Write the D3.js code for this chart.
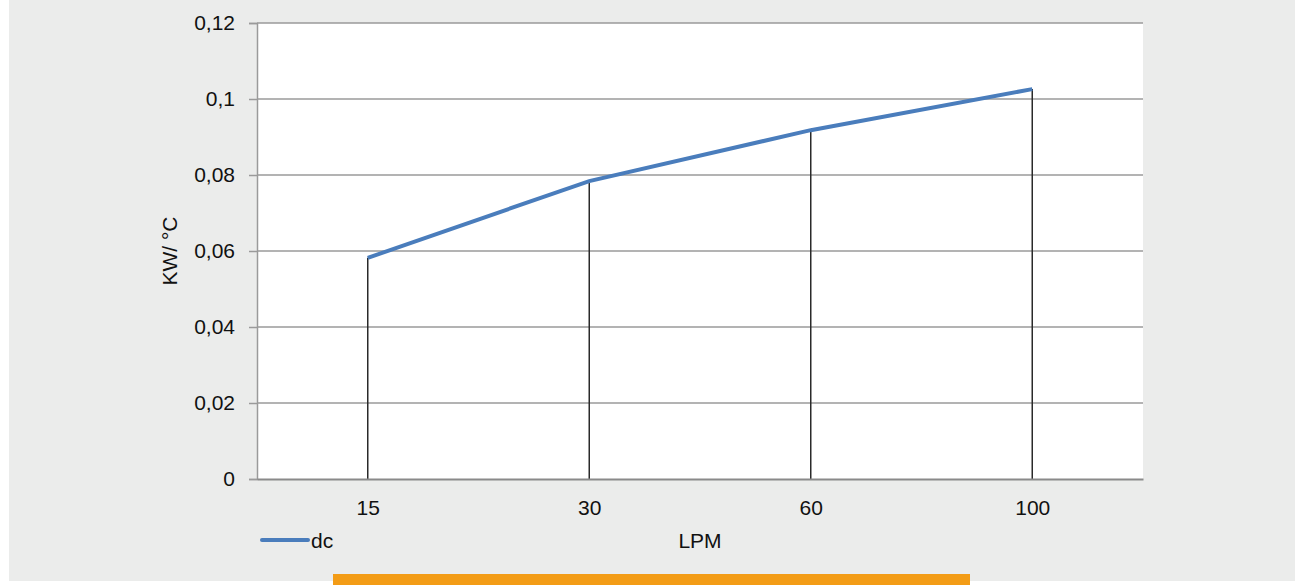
<!DOCTYPE html>
<html>
<head>
<meta charset="utf-8">
<script src="https://cdn.jsdelivr.net/npm/d3@7"></script>
<style>
  body { margin: 0; background: #fff; }
  text { font-family: "Liberation Sans", Arial, sans-serif; fill: #111; }
</style>
</head>
<body>
<div id="chart"></div>
<script>
// data
const categories = ["15", "30", "60", "100"];
const dcValues = [0.0582, 0.0784, 0.0918, 0.1026];
const yTicks = [0, 0.02, 0.04, 0.06, 0.08, 0.1, 0.12];
const seriesName = "dc";
const xTitle = "LPM";
const yTitle = "KW/ °C";

let W = 1303, H = 585;
let margin = { top: 23, left: 257, right: 160, bottom: 106 };
let w = W - margin.left - margin.right;
let h = H - margin.top - margin.bottom;
let fs = 21;

let svg = d3.select("#chart").append("svg")
    .attr("width", W)
    .attr("height", H);

// grey panel + orange strip
svg.append("rect").attr("x", 9).attr("y", 0).attr("width", 1286).attr("height", 581).attr("fill", "#ebeceb");
svg.append("rect").attr("x", 333).attr("y", 574).attr("width", 637).attr("height", 11).attr("fill", "#f39c16");

let g = svg.append("g").attr("transform", `translate(${margin.left}, ${margin.top})`);

g.append("rect").attr("width", w).attr("height", h).attr("fill", "#fff");

//scales
let x = d3.scalePoint().domain(categories).range([0, w]).padding(0.5);
let y = d3.scaleLinear().domain([0, 0.12]).range([h, 0]);

let fmt = d => String(d).replace(".", ",");

// gridlines
g.append("g").selectAll("line")
    .data(yTicks.filter(d => d > 0))
    .join("line")
    .attr("x1", 0).attr("x2", w)
    .attr("y1", d => y(d)).attr("y2", d => y(d))
    .attr("stroke", "#9a9a9a").attr("stroke-width", 1.5);

// y axis
let yAxis = g.append("g")
    .call(d3.axisLeft(y).tickValues(yTicks).tickFormat(fmt).tickSize(8).tickPadding(14));
yAxis.select(".domain").attr("stroke", "#9a9a9a").attr("stroke-width", 1.5);
yAxis.selectAll(".tick line").attr("stroke", "#9a9a9a").attr("stroke-width", 1.5);
yAxis.selectAll("text").attr("font-size", fs).attr("font-family", "Liberation Sans, Arial, sans-serif").attr("fill", "#111");

// drop lines
g.append("g").selectAll("line")
    .data(dcValues)
    .join("line")
    .attr("x1", (d, i) => x(categories[i])).attr("x2", (d, i) => x(categories[i]))
    .attr("y1", d => y(d)).attr("y2", h)
    .attr("stroke", "#2a2a2a").attr("stroke-width", 1.5);

// x axis
let xAxis = g.append("g")
    .attr("transform", `translate(0, ${h})`)
    .call(d3.axisBottom(x).tickSize(0).tickPadding(21));
xAxis.select(".domain").attr("stroke", "#8a8a8a").attr("stroke-width", 2);
xAxis.selectAll("text").attr("font-size", fs).attr("font-family", "Liberation Sans, Arial, sans-serif").attr("fill", "#111");

// series line
let line = d3.line()
    .x((d, i) => x(categories[i]))
    .y(d => y(d));
g.append("path")
    .datum(dcValues)
    .attr("d", line)
    .attr("fill", "none")
    .attr("stroke", "#4a7dbc")
    .attr("stroke-width", 4);

// titles
svg.append("text")
    .attr("x", margin.left + w / 2).attr("y", 548)
    .attr("text-anchor", "middle").attr("font-size", fs)
    .text(xTitle);
svg.append("text")
    .attr("transform", "translate(177, 251) rotate(-90)")
    .attr("text-anchor", "middle").attr("font-size", fs)
    .text(yTitle);

// legend
svg.append("line")
    .attr("x1", 262).attr("x2", 308).attr("y1", 540).attr("y2", 540)
    .attr("stroke", "#4a7dbc").attr("stroke-width", 4).attr("stroke-linecap", "round");
svg.append("text")
    .attr("x", 311).attr("y", 548).attr("font-size", fs)
    .text(seriesName);
</script>
</body>
</html>
